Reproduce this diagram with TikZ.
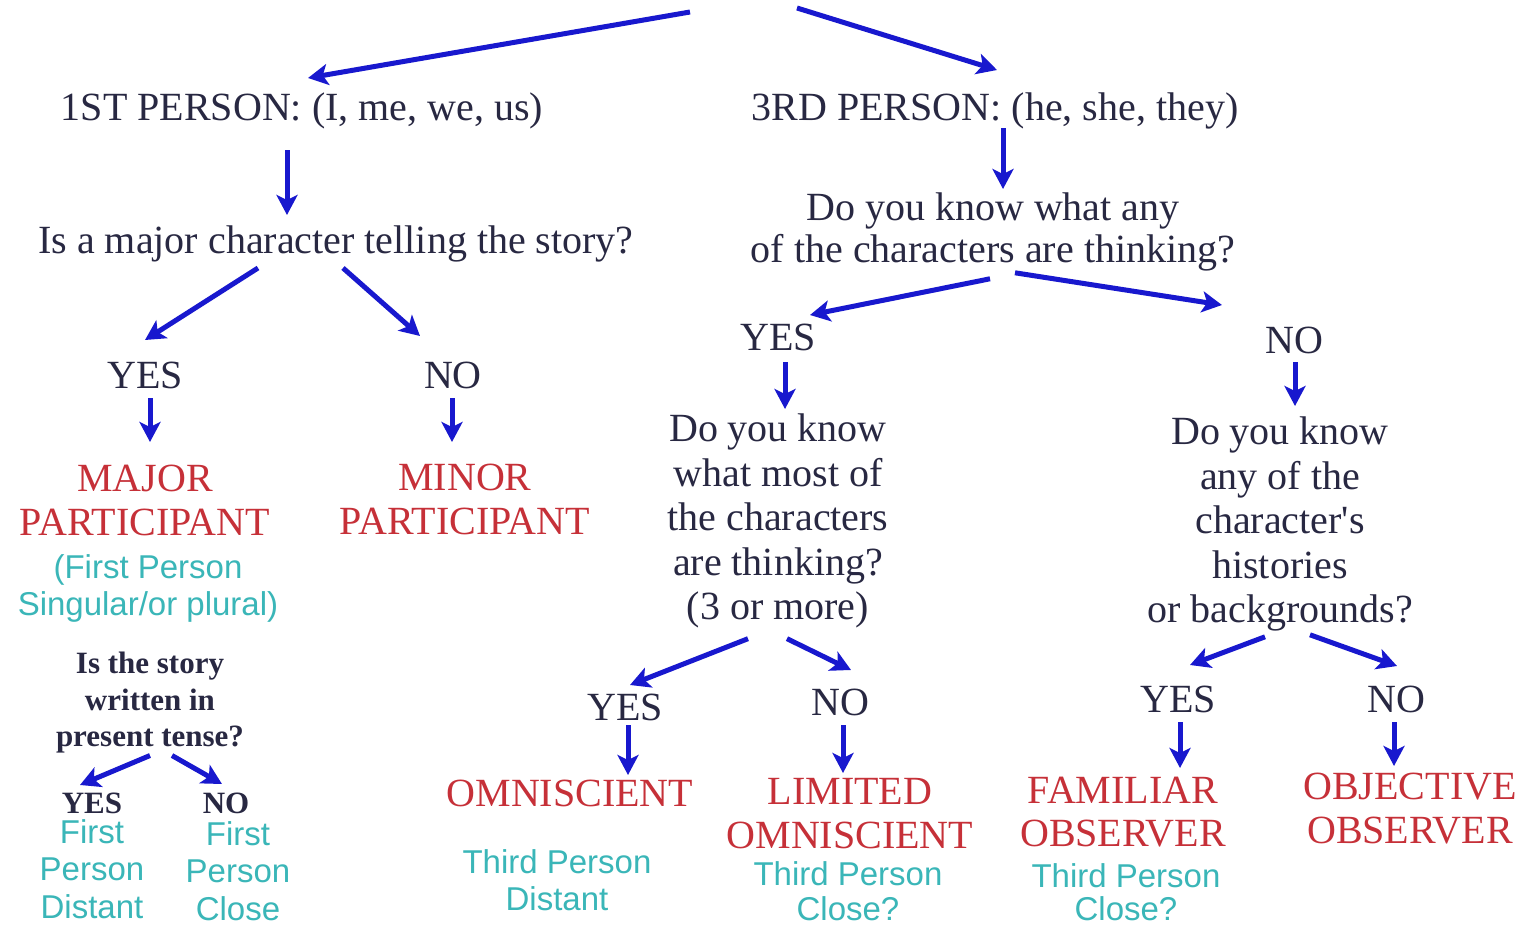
\documentclass[tikz,border=0pt]{standalone}
\usepackage{fontspec}
\setmainfont{Liberation Serif}
\setsansfont{Liberation Sans}
\usetikzlibrary{arrows.meta,calc}
\definecolor{ink}{RGB}{40,40,66}
\definecolor{redc}{RGB}{198,48,56}
\definecolor{tealc}{RGB}{58,182,184}
\definecolor{arrowblue}{RGB}{24,24,206}
\tikzset{
  txt/.style={font=\fontsize{40}{44.5}\selectfont, text=ink, inner sep=0pt, align=center},
  smalltxt/.style={font=\bfseries\fontsize{31}{36.5}\selectfont, text=ink, inner sep=0pt, align=center},
  result/.style={font=\fontsize{40}{44}\selectfont, text=redc, inner sep=0pt, align=center},
  note/.style={font=\sffamily\fontsize{33}{37}\selectfont, text=tealc, inner sep=0pt, align=center},
  arr/.style={draw=arrowblue, line width=5pt, -{Stealth[length=20pt,width=21pt,inset=5pt]}}
}
\begin{document}
\begin{tikzpicture}[x=1pt,y=-1pt]
\fill[white] (0,0) rectangle (1523,926);
\useasboundingbox (0,0) rectangle (1523,926);

% top free ends (title cut off)
\coordinate (t1) at (690,12);
\coordinate (t2) at (797,8);

% first level
\node[txt,anchor=base] (p1) at (302,120) {1ST PERSON: (I, me, we, us)};
\node[txt,anchor=base] (p3) at (995,120) {3RD PERSON: (he, she, they)};

% left branch
\node[txt,anchor=base] (q1) at (336,253) {Is a major character telling the story?};
\node[txt,anchor=base] (y1) at (145,388) {YES};
\node[txt,anchor=base] (n1) at (453,388) {NO};
\node[result,anchor=north] (major) at (145,465) {MAJOR\\PARTICIPANT};
\node[result,anchor=north] (minor) at (465,464) {MINOR\\PARTICIPANT};
\node[note,anchor=north] (fp) at (148,554) {(First Person\\Singular/or plural)};
\node[smalltxt,anchor=north] (sq) at (150,652) {Is the story\\written in\\present tense?};
\node[smalltxt,anchor=base] (y5) at (92,813) {YES};
\node[smalltxt,anchor=base] (n5) at (226,813) {NO};
\node[note,anchor=north,font=\sffamily\fontsize{33}{37.5}\selectfont] (fpd) at (92,819) {First\\Person\\Distant};
\node[note,anchor=north,font=\sffamily\fontsize{33}{37.5}\selectfont] (fpc) at (238,821) {First\\Person\\Close};

% right branch
\node[txt,anchor=north,font=\fontsize{40}{42}\selectfont] (q2) at (993,193) {Do you know what any\\of the characters are thinking?};
\node[txt,anchor=base] (y2) at (778,350) {YES};
\node[txt,anchor=base] (n2) at (1294,353) {NO};
\node[txt,anchor=north] (q3) at (778,414) {Do you know\\what most of\\the characters\\are thinking?\\(3 or more)};
\node[txt,anchor=north] (q4) at (1280,417) {Do you know\\any of the\\character\textquotesingle s\\histories\\or backgrounds?};
\node[txt,anchor=base] (y3) at (625,720) {YES};
\node[txt,anchor=base] (n3) at (840,715) {NO};
\node[txt,anchor=base] (y4) at (1178,712) {YES};
\node[txt,anchor=base] (n4) at (1396,712) {NO};
\node[result,anchor=base] (omni) at (570,806) {OMNISCIENT};
\node[result,anchor=north] (lim) at (850,778) {LIMITED\\OMNISCIENT};
\node[result,anchor=north,font=\fontsize{40}{43}\selectfont] (fam) at (1123,777) {FAMILIAR\\OBSERVER};
\node[result,anchor=north] (obj) at (1410,773) {OBJECTIVE\\OBSERVER};
\node[note,anchor=north] (tpd) at (557,849) {Third Person\\Distant};
\node[note,anchor=north,font=\sffamily\fontsize{33}{35}\selectfont] (tpc1) at (848,861) {Third Person\\Close?};
\node[note,anchor=north,font=\sffamily\fontsize{33}{33.5}\selectfont] (tpc2) at (1126,863) {Third Person\\Close?};

% connectors
\draw[arr] (t1) -- ($(p1.base)+(6,-42)$);
\draw[arr] (t2) -- ($(p3.base)+(2,-50)$);
\draw[arr] ($(p1.base)+(-15,30)$) -- ($(q1.base)+(-49,-38)$);
\draw[arr] ($(q1.base)+(-78,15)$) -- ($(y1.base)+(0,-48)$);
\draw[arr] ($(q1.base)+(7,15)$) -- ($(n1.base)+(-33,-52)$);
\draw[arr] ($(y1.base)+(5,10)$) -- ($(major.north)+(5,-23)$);
\draw[arr] ($(n1.base)+(-1,10)$) -- ($(minor.north)+(-13,-22)$);
\draw[arr] ($(sq.south)+(0,2)$) -- ($(y5.base)+(-12,-28)$);
\draw[arr] ($(sq.south)+(22,2)$) -- ($(n5.base)+(-4,-29)$);
\draw[arr] ($(p3.base)+(8,8)$) -- ($(q2.north)+(10,-4)$);
\draw[arr] ($(q2.south)+(-3,7)$) -- ($(y2.base)+(32,-35)$);
\draw[arr] ($(q2.south)+(22,1)$) -- ($(n2.base)+(-72,-48)$);
\draw[arr] ($(y2.base)+(7,12)$) -- ($(q3.north)+(7,-5)$);
\draw[arr] ($(n2.base)+(1,9)$) -- ($(q4.north)+(15,-11)$);
\draw[arr] ($(q3.south)+(-30,10)$) -- ($(y3.base)+(5,-35)$);
\draw[arr] ($(q3.south)+(9,10)$) -- ($(n3.base)+(11,-45)$);
\draw[arr] ($(y3.base)+(3,5)$) -- ($(omni.base)+(58,-31)$);
\draw[arr] ($(n3.base)+(3,10)$) -- ($(lim.north)+(-7,-5)$);
\draw[arr] ($(q4.south)+(-15,5)$) -- ($(y4.base)+(12,-47)$);
\draw[arr] ($(q4.south)+(30,3)$) -- ($(n4.base)+(1,-46)$);
\draw[arr] ($(y4.base)+(2,10)$) -- ($(fam.north)+(57,-9)$);
\draw[arr] ($(n4.base)+(-2,10)$) -- ($(obj.north)+(-16,-7)$);
\end{tikzpicture}
\end{document}
